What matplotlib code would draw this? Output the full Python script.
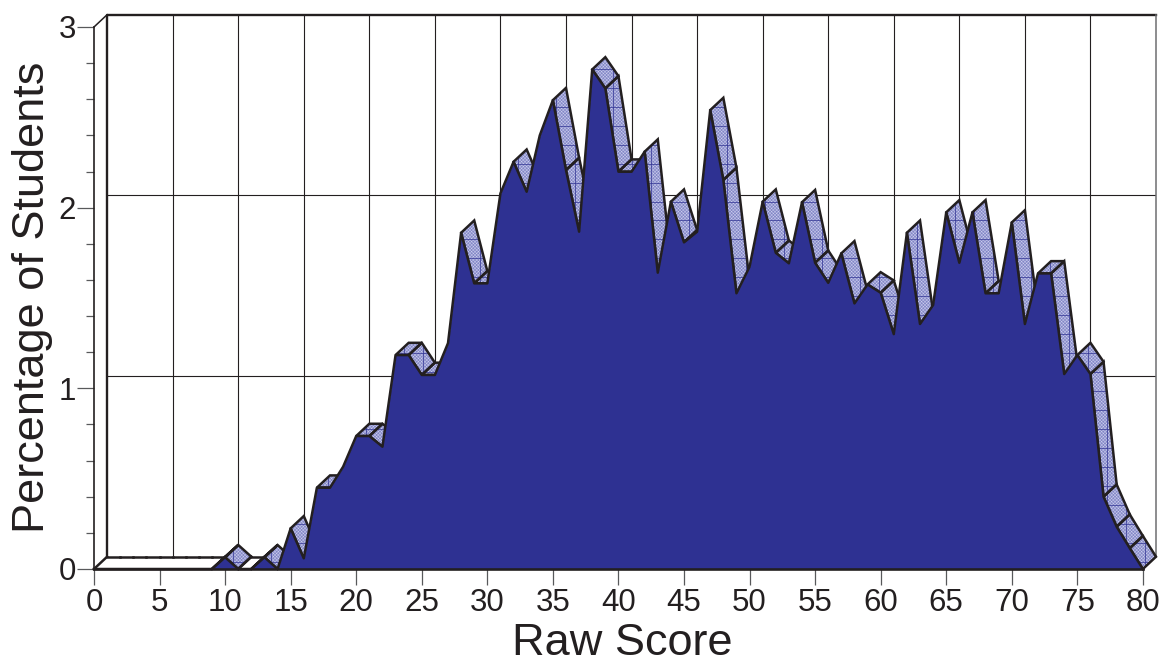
import numpy as np
import matplotlib
matplotlib.use("Agg")
import matplotlib.pyplot as plt
from matplotlib.patches import Polygon

plt.rcParams['font.family'] = ['Liberation Sans', 'DejaVu Sans']
plt.rcParams['hatch.linewidth'] = 0.35

# raw score 0..80
scores = np.arange(0, 81)
percent = [
    0, 0, 0, 0, 0, 0, 0, 0, 0, 0,
    0.065, 0, 0, 0.065, 0, 0.225, 0.059, 0.45, 0.45, 0.566,
    0.736, 0.736, 0.677, 1.184, 1.184, 1.074, 1.074, 1.25, 1.861, 1.581,
    1.581, 2.079, 2.254, 2.088, 2.40, 2.595, 2.208, 1.867, 2.765, 2.66,
    2.199, 2.199, 2.31, 1.64, 2.033, 1.808, 1.867, 2.54, 2.153, 1.526,
    1.673, 2.033, 1.75, 1.692, 2.03, 1.695, 1.584, 1.747, 1.47, 1.575,
    1.529, 1.30, 1.861, 1.356, 1.461, 1.974, 1.695, 1.974, 1.526, 1.526,
    1.918, 1.356, 1.636, 1.636, 1.079, 1.184, 1.079, 0.40, 0.234, 0.115,
    0,
]
x_ticks = list(range(0, 81, 5))
y_ticks = [0, 1, 2, 3]
y_minor = [0.2, 0.4, 0.6, 0.8, 1.2, 1.4, 1.6, 1.8, 2.2, 2.4, 2.6, 2.8]

INK = '#231f20'
BLUE = '#2e3192'
FACE = '#8286c6'
EDGE_W = 1.8

# how far the back plane sits from the front one
DX = 1.0
DY = 0.068

fig = plt.figure(figsize=(11.6, 6.62), dpi=100)
ax = fig.add_axes([94 / 1160, (662 - 569) / 662, 1062 / 1160, 554.3 / 662])
ax.set_xlim(0, 81)
ax.set_ylim(0, 3 + DY)
ax.patch.set_visible(False)

# back wall
for v in [1, 2]:
    ax.plot([DX, 80 + DX], [v + DY, v + DY], color=INK, lw=0.8, zorder=1)
for k in x_ticks[1:-1]:
    ax.plot([k + DX, k + DX], [DY, 3 + DY], color=INK, lw=0.8, zorder=1)
ax.plot([DX, DX, 80 + DX], [DY, 3 + DY, 3 + DY], color=INK, lw=1.7, zorder=2, clip_on=False)
ax.plot([80 + DX, 80 + DX], [DY, 3 + DY], color='#6d6e70', lw=1.1, zorder=2, clip_on=False)
ax.plot([0, DX], [3, 3 + DY], color=INK, lw=1.1, zorder=2, clip_on=False)

# ribbon on top of the area, only the faces looking up are seen
grid_xs = np.arange(29.44 - 1.45 * 20, 82, 1.45)
grid_ys = np.arange(1.824 - 0.105 * 17, 3.1, 0.105)
for i in range(len(scores) - 1):
    x0, x1 = scores[i], scores[i + 1]
    y0, y1 = percent[i], percent[i + 1]
    if y1 - y0 >= DY:
        continue
    corners = [(x0, y0), (x1, y1), (x1 + DX, y1 + DY), (x0 + DX, y0 + DY)]
    if y0 == 0 and y1 == 0:
        # empty floor, white and without the inner edges
        ax.add_patch(Polygon(corners, closed=True, fc='white', ec='white', lw=0.5, zorder=3, clip_on=False))
        ax.plot([x0 + DX, x1 + DX], [DY, DY], color=INK, lw=EDGE_W, zorder=3.2, clip_on=False)
        if i == 0 or percent[i - 1] != 0:
            ax.plot([x0, x0 + DX], [0, DY], color=INK, lw=EDGE_W, zorder=3.2, clip_on=False)
        if percent[i + 2] != 0:
            ax.plot([x1, x1 + DX], [0, DY], color=INK, lw=EDGE_W, zorder=3.2, clip_on=False)
        continue
    face = Polygon(corners, closed=True, fc=FACE, ec='#c9cbec', hatch='xxxxxxxxxx', lw=0, zorder=3, clip_on=False)
    ax.add_patch(face)
    lo, hi = min(y0, y1), max(y0, y1) + DY
    for gx in grid_xs[(grid_xs >= x0) & (grid_xs <= x1 + DX)]:
        ln, = ax.plot([gx, gx], [lo, hi], color=BLUE, lw=0.5, zorder=3.1)
        ln.set_clip_path(face)
    for gy in grid_ys[(grid_ys >= lo) & (grid_ys <= hi)]:
        ln, = ax.plot([x0, x1 + DX], [gy, gy], color=BLUE, lw=0.5, zorder=3.1)
        ln.set_clip_path(face)
    ax.add_patch(Polygon(corners, closed=True, fill=False, ec=INK, lw=EDGE_W, joinstyle='miter', zorder=3.2, clip_on=False))

# front area
ax.fill_between(scores, percent, 0, color=BLUE, lw=0, zorder=4)
ax.plot(scores, percent, color=INK, lw=EDGE_W, zorder=5, clip_on=False)

# axes
for side in ['top', 'right']:
    ax.spines[side].set_visible(False)
ax.spines['left'].set_bounds(0, 3)
ax.spines['bottom'].set_bounds(0, 80)
ax.spines['left'].set_color(INK)
ax.spines['bottom'].set_color(INK)
ax.spines['left'].set_linewidth(1.2)
ax.spines['bottom'].set_linewidth(1.9)
ax.spines['left'].set_zorder(6)
ax.spines['bottom'].set_zorder(6)

ax.set_xticks(x_ticks)
ax.set_yticks(y_ticks)
ax.set_yticks(y_minor, minor=True)
ax.tick_params(axis='x', length=11.5, width=0.9, color='#58595b', labelsize=22.5, labelcolor=INK, pad=2)
ax.tick_params(axis='y', which='major', length=12, width=0.9, color='#58595b', labelsize=22.5, labelcolor=INK, pad=1)
ax.tick_params(axis='y', which='minor', length=6, width=0.9, color='#58595b')
ax.set_xlabel('Raw Score', fontsize=32.5, color=INK, labelpad=3.5, x=0.497)
ax.set_ylabel('Percentage of Students', fontsize=32.5, color=INK, labelpad=4, y=0.4907)

fig.savefig('out.png', dpi=100)
